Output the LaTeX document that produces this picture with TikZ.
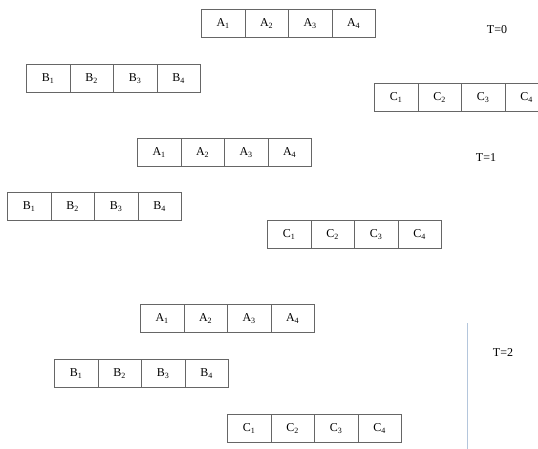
\documentclass[tikz,border=0pt]{standalone}
\usepackage{fontspec}
\setmainfont{Liberation Serif}
\usepackage{tikz}

\begin{document}
\begin{tikzpicture}[x=1pt,y=-1pt,
  cell/.style={draw=black!60, line width=0.7pt, minimum width=43.5pt, minimum height=28pt,
    inner sep=0pt, anchor=north west, font=\fontsize{12}{14}\selectfont},
  tlabel/.style={font=\fontsize{12}{14}\selectfont}]
  \useasboundingbox (0,0) rectangle (538,449);
  \clip (0,0) rectangle (538,449);
  % T=0
  \foreach \row/\x/\y in {A/201/9, B/26/64, C/374/83}
    \foreach \i in {1,...,4}
      \node[cell] (\row0\i) at (\x+43.5*\i-43.5,\y) {\row\textsubscript{\i}};
  \node[tlabel] (t0) at (497,30) {T=0};
  % T=1
  \foreach \row/\x/\y in {A/137/138, B/7/192, C/267/220}
    \foreach \i in {1,...,4}
      \node[cell] (\row1\i) at (\x+43.5*\i-43.5,\y) {\row\textsubscript{\i}};
  \node[tlabel] (t1) at (486,158) {T=1};
  % T=2
  \foreach \row/\x/\y in {A/140/304, B/54/359, C/227/414}
    \foreach \i in {1,...,4}
      \node[cell] (\row2\i) at (\x+43.5*\i-43.5,\y) {\row\textsubscript{\i}};
  \node[tlabel] (t2) at (503,353) {T=2};
  \coordinate (ltop) at (467,323);
  \coordinate (lbot) at (467,449);
  \draw[color={rgb,255:red,180;green,198;blue,220}, line width=1pt] (ltop) -- (lbot);
\end{tikzpicture}
\end{document}
